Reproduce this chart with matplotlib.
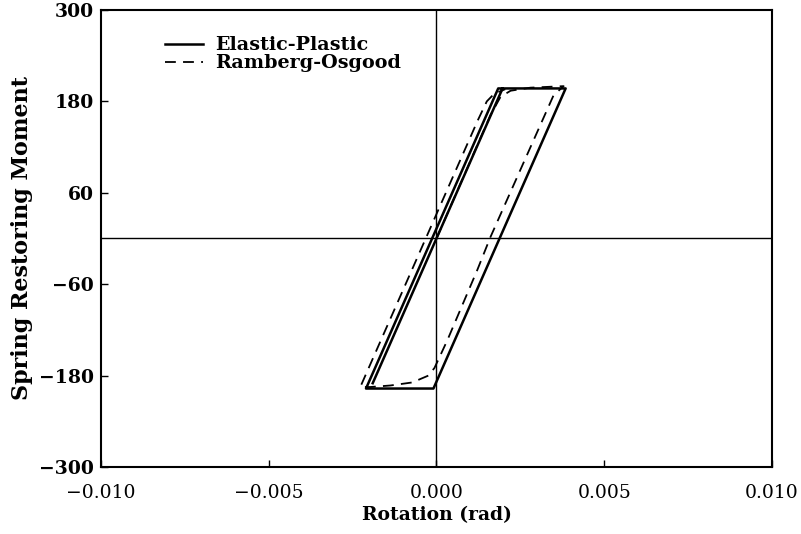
import matplotlib
matplotlib.use("Agg")
import matplotlib.pyplot as plt

# Elastic-plastic spring response (rotation in rad, moment)
ep_rotation = [-0.00190, 0.00197, 0.00385, -0.00009, -0.00210, 0.00184, 0.00197]
ep_moment = [-190, 197, 197, -197, -197, 197, 197]

# Ramberg-Osgood spring response
ro_rotation = [0.0, 0.00161, 0.00191, 0.00221, 0.00280, 0.00379, 0.00349,
               0.00161, 0.00122, 0.00033, 0.00012, -0.00006, -0.00024,
               -0.00072, -0.00137, -0.00197, -0.00227, 0.00123, 0.00150,
               0.00172, 0.00205]
ro_moment = [0, 162, 186, 194, 198, 200, 188,
             2, -41, -133, -153, -170, -180,
             -189, -193, -195, -195, 155, 180,
             190, 196]

x_ticks = [-0.010, -0.005, 0.000, 0.005, 0.010]
x_tick_labels = ["\u22120.010", "\u22120.005", "0.000", "0.005", "0.010"]
y_ticks = [-300, -180, -60, 60, 180, 300]
y_tick_labels = ["\u2212300", "\u2212180", "\u221260", "60", "180", "300"]

serif = ["DejaVu Serif"]

fig = plt.figure(figsize=(8.01, 5.34), dpi=100)
ax = fig.add_axes([0.126, 0.1255, 0.8378, 0.8558])

ax.axhline(0, color="black", lw=1.0, zorder=1)
ax.axvline(0, color="black", lw=1.0, zorder=1)

ax.plot(ep_rotation, ep_moment, color="black", lw=1.8, solid_joinstyle="round",
        label="Elastic-Plastic", zorder=3)
ax.plot(ro_rotation, ro_moment, color="black", lw=1.3, dashes=(6, 4),
        label="Ramberg-Osgood", zorder=2)

ax.set_xlim(-0.010, 0.010)
ax.set_ylim(-300, 300)
ax.set_xticks(x_ticks)
ax.set_xticklabels(x_tick_labels, family=serif, fontsize=13.5)
ax.set_yticks(y_ticks)
ax.set_yticklabels(y_tick_labels, family=serif, fontsize=13.5, fontweight="bold")
ax.tick_params(direction="in", length=5, width=1.0)
ax.tick_params(axis="x", pad=12)
ax.tick_params(axis="y", pad=5)

for s in ax.spines.values():
    s.set_linewidth(1.5)

ax.set_xlabel("Rotation (rad)", family=serif, fontsize=13.5, fontweight="bold", labelpad=3)
ax.set_ylabel("Spring Restoring Moment", family=serif, fontsize=16, fontweight="bold", labelpad=4)

leg = ax.legend(loc="upper left", bbox_to_anchor=(0.07, 0.98), frameon=False,
                prop={"family": serif, "size": 13.8, "weight": "bold"},
                handlelength=2.0, handletextpad=0.6, labelspacing=0.0)

fig.savefig("out.png", dpi=100)
